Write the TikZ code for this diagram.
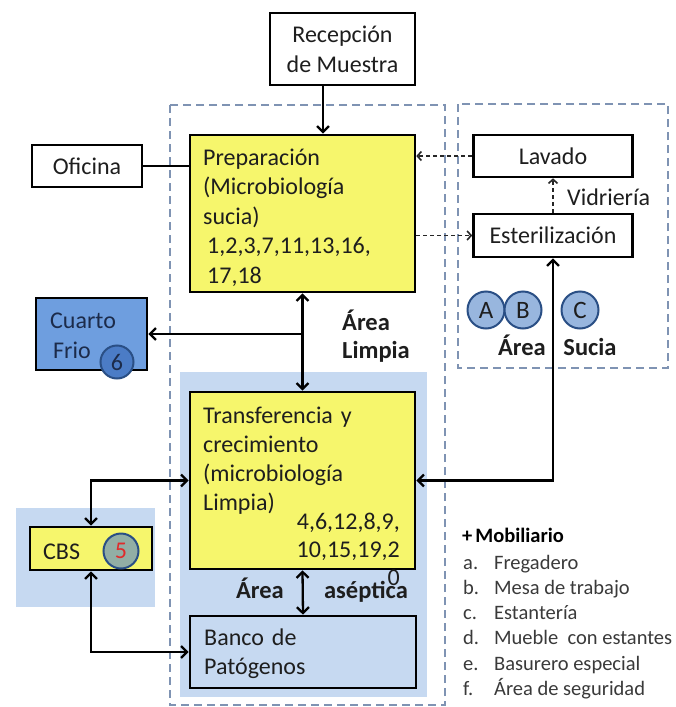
\documentclass[tikz,border=0pt]{standalone}
\usepackage{fontspec}
\setmainfont{Carlito}
\usetikzlibrary{arrows.meta}

\definecolor{boxyellow}{HTML}{F6F66C}
\definecolor{paleblue}{HTML}{C6D9F1}
\definecolor{coldblue}{HTML}{6E9EDF}
\definecolor{zoneline}{HTML}{7F93B3}
\definecolor{discfill}{HTML}{98B6DE}
\definecolor{discline}{HTML}{2A4F85}
\definecolor{discsix}{HTML}{4B7CC6}
\definecolor{discfive}{HTML}{92AEA5}
\definecolor{redfive}{HTML}{E02B2B}
\definecolor{inktext}{HTML}{1E1E1E}
\definecolor{navytext}{HTML}{1C2B4A}
\definecolor{legendtext}{HTML}{3A3A3A}

\tikzset{
  box/.style={draw=black, line width=2.6pt, inner sep=0pt, text=inktext,
    font=\fontsize{24}{30}\selectfont, align=center},
  txt/.style={inner sep=0pt, text=inktext, align=left},
  zone/.style={draw=zoneline, line width=1.5pt, dash pattern=on 8pt off 5pt},
  wire/.style={draw=black, line width=2.3pt},
  fwd/.style={wire, -{Straight Barb[length=6pt,width=12pt]}},
  both/.style={wire, {Straight Barb[length=6pt,width=12pt]}-{Straight Barb[length=6pt,width=12pt]}},
  dfwd/.style={draw=black!85, line width=1.6pt, dash pattern=on 4pt off 3pt,
    -{Straight Barb[length=4pt,width=9pt]}},
  disc/.style={circle, draw=discline, fill=discfill, line width=2pt,
    minimum size=37pt, inner sep=0pt, text=inktext, font=\fontsize{25}{25}\selectfont},
  zonelabel/.style={inner sep=0pt, text=inktext, font=\bfseries\fontsize{24.5}{28}\selectfont}
}

\begin{document}
\begin{tikzpicture}[x=1pt,y=-1pt]
  % canvas
  \fill[white] (0,0) rectangle (675,707);
  \useasboundingbox (0,0) rectangle (675,707);

  % shaded zones
  \fill[paleblue] (180,372) rectangle (427,697);
  \fill[paleblue] (16,508) rectangle (155,607);

  % dashed zone outlines
  \draw[zone] (170,105) rectangle (445,705);
  \draw[zone] (458,104) rectangle (668,368);

  % boxes
  \node[box, minimum width=145pt, minimum height=72pt] (rec) at (342.5,49)
    {Recepción\\de Muestra};
  \node[box, minimum width=110pt, minimum height=42pt] (ofi) at (87,166) {Oficina};
  \node[box, fill=boxyellow, minimum width=225pt, minimum height=157pt] (prep) at (302.5,213.5) {};
  \node[box, minimum width=159pt, minimum height=42pt] (lav) at (553,156) {Lavado};
  \node[box, minimum width=159pt, minimum height=43pt] (est) at (553,235.5) {Esterilización};
  \node[box, fill=coldblue, minimum width=111pt, minimum height=72pt] (cold) at (91.5,334) {};
  \node[box, fill=boxyellow, minimum width=225pt, minimum height=177pt] (trans) at (302.5,480.5) {};
  \node[box, fill=boxyellow, minimum width=122pt, minimum height=43pt] (cbs) at (91,548.5) {};
  \node[box, fill=paleblue, minimum width=226pt, minimum height=72pt] (banco) at (303,652) {};

  % connectors
  \coordinate (recx) at (323,0);
  \draw[fwd] (rec.south -| recx) -- (prep.north -| recx);
  \draw[wire] (ofi.east) -- (ofi.east -| prep.west);
  \draw[dfwd] (lav.west) -- (lav.west -| prep.east);
  \draw[dfwd] (est.west -| prep.east) -- (est.west);
  \draw[dfwd] (est.north) -- (lav.south);
  \draw[both] (prep.south) -- (trans.north);
  \draw[fwd] (cold.east -| prep.south) -- (cold.east);
  \draw[both] (trans.west) -| (cbs.north);
  \draw[both] (cbs.south) |- (banco.west);
  \draw[both] (trans.east) -| (est.south);
  \draw[both] (trans.south) -- (banco.north);

  % box texts
  \node[txt, anchor=base west, text width=205pt, font=\fontsize{24}{29.5}\selectfont] (preptext) at (203,165)
    {Preparación\\(Microbiología\\sucia)\\\hspace*{4pt}1,2,3,7,11,13,16,\\\hspace*{4pt}17,18};
  \node[txt, anchor=base west, text width=205pt, font=\fontsize{24}{29.3}\selectfont] (transtext) at (203,423)
    {Transferencia y\\crecimiento\\(microbiología\\Limpia)};
  \node[txt, anchor=base east, text width=120pt, align=right, font=\fontsize{24}{28}\selectfont] (transnum) at (400,529)
    {4,6,12,8,9,\\10,15,19,2\\0};
  \node[txt, anchor=base west, text width=200pt, font=\fontsize{24}{29}\selectfont] (bancotext) at (204,645)
    {Banco de\\Patógenos};
  \node[txt, anchor=base west, text width=90pt, text=navytext, font=\fontsize{24}{30}\selectfont] (coldtext) at (50,328)
    {Cuarto\\\hspace*{3pt}Frio};
  \node[txt, anchor=base west, font=\fontsize{24}{30}\selectfont] (cbstext) at (43,559) {CBS};

  % lettered and numbered discs
  \node[disc] (da) at (486,310) {A};
  \node[disc] (db) at (523,310) {B};
  \node[disc] (dc) at (580,310) {C};
  \node[disc, fill=discsix, minimum size=33pt, font=\fontsize{24}{24}\selectfont, text=navytext] (d6) at (117,362) {6};
  \node[disc, fill=discfive, minimum size=35pt, font=\fontsize{24}{24}\selectfont, text=redfive] (d5) at (121,551) {5};

  % zone labels
  \node[zonelabel, anchor=base west, text width=80pt, align=left] (limpia) at (342,330) {Área\\Limpia};
  \node[zonelabel, anchor=base] (sucia1) at (522,355) {Área};
  \node[zonelabel, anchor=base] (sucia2) at (590,355) {Sucia};
  \node[zonelabel, anchor=base] (asep1) at (260,598) {Área};
  \node[zonelabel, anchor=base] (asep2) at (366,598) {aséptica};
  \node[txt, anchor=base west, font=\fontsize{24}{30}\selectfont] (vid) at (567,205) {Vidriería};

  % furniture legend
  \node[txt, anchor=base west, text=black, font=\bfseries\fontsize{20.5}{25.3}\selectfont] (mobtitle) at (462,542)
    {+\hspace{3pt}Mobiliario};
  \node[txt, anchor=base west, text=legendtext, font=\fontsize{20.5}{25.3}\selectfont] (mobitems) at (463,569)
    {\begin{tabular}[t]{@{}p{31pt}@{}l@{}}
      a. & Fregadero\\
      b. & Mesa de trabajo\\
      c. & Estantería\\
      d. & Mueble~~con estantes\\
      e. & Basurero~especial\\
      f. & Área de seguridad
    \end{tabular}};
\end{tikzpicture}
\end{document}
